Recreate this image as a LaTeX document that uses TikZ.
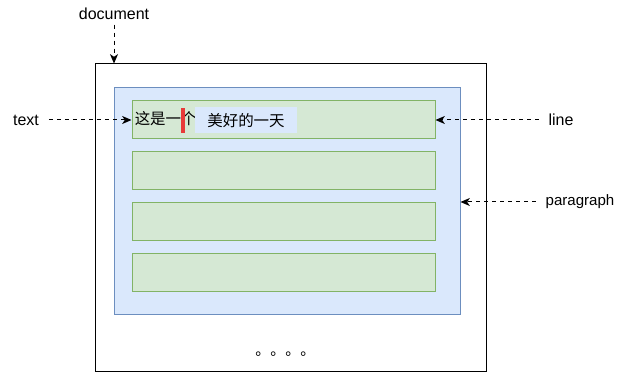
\documentclass[tikz,border=0pt]{standalone}
\usepackage{fontspec}
\setmainfont{Liberation Sans}
\newfontfamily\cjk{Noto Sans CJK SC}
\usepackage{xcolor}
\usetikzlibrary{arrows.meta,calc,positioning}
\definecolor{paraFill}{HTML}{DAE8FC}
\definecolor{paraDraw}{HTML}{6C8EBF}
\definecolor{lineFill}{HTML}{D5E8D4}
\definecolor{lineDraw}{HTML}{82B366}
\definecolor{caretRed}{HTML}{E83A3A}

\begin{document}
\begin{tikzpicture}[x=0.75pt,y=-0.75pt,font=\fontsize{12}{14}\selectfont,box/.style={draw=#1Draw,fill=#1Fill,line width=0.75pt,inner sep=0pt},linebox/.style={box=line,minimum width=227.25pt,minimum height=28.5pt},arrow/.style={-{Stealth[length=7pt,width=6pt,inset=2pt]},line width=0.75pt,dash pattern=on 3pt off 3pt}]
\useasboundingbox (0,0) rectangle (625,373);
\node[draw,line width=0.75pt,inner sep=0pt,minimum width=293.25pt,minimum height=231pt] (doc) at (290.5,218) {};
\node[box=para,minimum width=259.5pt,minimum height=170.25pt] (para) at (287,201.5) {};
\node[linebox] (line1) at (283.5,120) {};
\node[linebox,below=9pt of line1] (line2) {};
\node[linebox,below=9pt of line2] (line3) {};
\node[linebox,below=9pt of line3] (line4) {};
\node[anchor=west,inner sep=0pt,font=\cjk\fontsize{11.6}{14}\selectfont] (head) at (134.5,119) {这是一个};
\node[fill=caretRed,inner sep=0pt,minimum width=3pt,minimum height=18.75pt] (caret) at (183,120.5) {};
\node[fill=paraFill,inner sep=0pt,minimum width=76.5pt,minimum height=19.5pt,font=\cjk\fontsize{11.6}{14}\selectfont] (tail) at (246,120.5) {美好的一天};
\node (doclbl) at (114,14) {document};
\node (textlbl) at (26,120) {text};
\node (linelbl) at (561,120) {line};
\node[font=\fontsize{11.3}{14}\selectfont] (paralbl) at (580,202) {paragraph};
\node[anchor=base west,inner sep=0pt,font=\cjk\fontsize{11.25}{14}\selectfont] (more) at (255,356) {。。。。};
\draw[arrow] (doclbl.south) -- (doc.north -| doclbl);
\draw[arrow,shorten <=4pt] (textlbl.east) -- (line1.west);
\draw[arrow,shorten <=4pt] (linelbl.west) -- (line1.east);
\draw[arrow,shorten <=4pt] (paralbl.west) -- (para.east |- paralbl);
\end{tikzpicture}
\end{document}
